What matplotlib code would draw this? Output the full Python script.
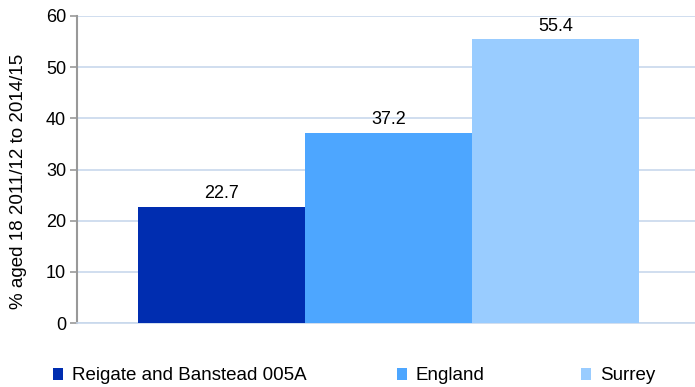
import matplotlib
matplotlib.use('Agg')
import matplotlib.pyplot as plt
from matplotlib.patches import Patch

plt.rcParams['font.family'] = ['Liberation Sans', 'DejaVu Sans']

# Data
areas = ['Reigate and Banstead 005A', 'England', 'Surrey']
values = [22.7, 37.2, 55.4]
colors = ['#002db0', '#4da6ff', '#99ccff']
yticks = [0, 10, 20, 30, 40, 50, 60]

fig = plt.figure(figsize=(6.95, 3.87), dpi=100)
ax = fig.add_axes([0.111, 0.165, 0.889, 0.794])

x = list(range(len(values)))
ax.bar(x, values, width=1.0, color=colors, zorder=3)
for xi, v in zip(x, values):
    ax.text(xi, v + 0.9, f'{v:.1f}', ha='center', va='bottom', fontsize=13, zorder=4)

ax.set_xlim(-0.865, 2.835)
ax.set_ylim(0, 60)
ax.set_yticks(yticks)
ax.set_xticks([])
ax.yaxis.grid(True, color='#c8d8ec', linewidth=1.2, zorder=0)
ax.tick_params(axis='y', labelsize=13, length=5, color='#999999', width=1.2, pad=3)
ax.set_ylabel('% aged 18 2011/12 to 2014/15', fontsize=13.5)
ax.yaxis.set_label_coords(-0.081, 0.46)

for s in ['top', 'right']:
    ax.spines[s].set_visible(False)
ax.spines['left'].set_color('#999999')
ax.spines['left'].set_linewidth(1.5)
ax.spines['bottom'].set_color('#c8d8ec')
ax.spines['bottom'].set_linewidth(1.2)

# legend entries placed individually along the bottom
legend_x = [53, 397, 581]
for a, c, lx in zip(areas, colors, legend_x):
    fig.legend(handles=[Patch(facecolor=c, label=a)], loc='center left',
               bbox_to_anchor=(lx / 695, 1 - 376 / 387), frameon=False,
               fontsize=13.5, handlelength=0.55, handleheight=0.55,
               handletextpad=0.45, borderaxespad=0, borderpad=0)

fig.savefig('out.png', dpi=100)
